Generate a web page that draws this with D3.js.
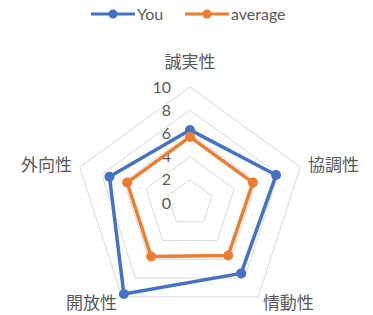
<!DOCTYPE html>
<html>
<head>
<meta charset="utf-8">
<script src="https://cdn.jsdelivr.net/npm/d3@7"></script>
<style>
  body { margin: 0; background: #fff; }
  svg { display: block; }
</style>
</head>
<body>
<div id="chart"></div>
<script>
// chart values
const categories = ["誠実性", "協調性", "情動性", "開放性", "外向性"];
const youValues = [6.3, 7.8, 7.5, 9.7, 7.3];
const averageValues = [5.7, 5.7, 5.6, 5.7, 5.7];
const tickValues = [0, 2, 4, 6, 8, 10];
const seriesNames = ["You", "average"];

const width = 373, height = 315;
const cx = 190, cy = 203, R = 116;
const textColor = "#595959";
const gridColor = "#d9d9d9";
const colors = {You: "#4472C4", average: "#ED7D31"};
const latin = "Lato, 'Noto Sans', sans-serif";
const cjk = "'Noto Sans CJK JP', 'Noto Sans', sans-serif";

const svg = d3.select("#chart").append("svg")
    .attr("width", width)
    .attr("height", height);

const rScale = d3.scaleLinear().domain([0, 10]).range([0, R]);
const angleScale = d3.scaleLinear().domain([0, categories.length]).range([0, 2 * Math.PI]);

const pointAt = (i, v) => {
    const a = angleScale(i);
    return [cx + rScale(v) * Math.sin(a), cy - rScale(v) * Math.cos(a)];
};

// grid rings (0 is just the centre)
const g = svg.append("g");
g.selectAll(".ring")
    .data(tickValues.filter(t => t > 0))
    .join("polygon")
    .attr("class", "ring")
    .attr("points", t => categories.map((c, i) => pointAt(i, t).join(",")).join(" "))
    .attr("fill", "none")
    .attr("stroke", gridColor)
    .attr("stroke-width", 1);

// tick labels left of the vertical axis
g.selectAll(".tick")
    .data(tickValues)
    .join("text")
    .attr("class", "tick")
    .attr("x", cx - 19)
    .attr("y", t => cy - rScale(t))
    .attr("dy", "0.35em")
    .attr("text-anchor", "end")
    .attr("font-family", latin)
    .attr("font-size", 16)
    .attr("fill", textColor)
    .text(t => t);

// category labels
g.selectAll(".cat")
    .data(categories)
    .join("text")
    .attr("class", "cat")
    .attr("x", (c, i) => {
        const a = angleScale(i);
        return cx + (R + 8) * Math.sin(a);
    })
    .attr("y", (c, i) => {
        const a = angleScale(i);
        return i === 0 ? cy - R - 25 : cy - (R + 8) * Math.cos(a);
    })
    .attr("dy", "0.35em")
    .attr("text-anchor", (c, i) => {
        const s = Math.sin(angleScale(i));
        return Math.abs(s) < 0.01 ? "middle" : (s > 0 ? "start" : "end");
    })
    .attr("font-family", cjk)
    .attr("font-size", 17)
    .attr("fill", textColor)
    .text(c => c);

// series
const series = [
    {name: "You", values: youValues},
    {name: "average", values: averageValues}
];
const line = d3.line().curve(d3.curveLinearClosed);

series.forEach(s => {
    const pts = s.values.map((v, i) => pointAt(i, v));
    const sg = svg.append("g");
    sg.append("path")
        .attr("d", line(pts))
        .attr("fill", "none")
        .attr("stroke", colors[s.name])
        .attr("stroke-width", 3.5)
        .attr("stroke-linejoin", "round");
    sg.selectAll("circle")
        .data(pts)
        .join("circle")
        .attr("cx", d => d[0])
        .attr("cy", d => d[1])
        .attr("r", 5)
        .attr("fill", colors[s.name]);
});

// legend
const legendX = [91, 185];
const legend = svg.append("g");
seriesNames.forEach((name, i) => {
    const lg = legend.append("g").attr("transform", "translate(" + legendX[i] + ",14)");
    lg.append("line")
        .attr("x1", 0).attr("x2", 44)
        .attr("stroke", colors[name])
        .attr("stroke-width", 3);
    lg.append("circle")
        .attr("cx", 22).attr("r", 4.5)
        .attr("fill", colors[name]);
    lg.append("text")
        .attr("x", 46)
        .attr("dy", "0.35em")
        .attr("font-family", latin)
        .attr("font-size", 16)
        .attr("fill", textColor)
        .text(name);
});
</script>
</body>
</html>
